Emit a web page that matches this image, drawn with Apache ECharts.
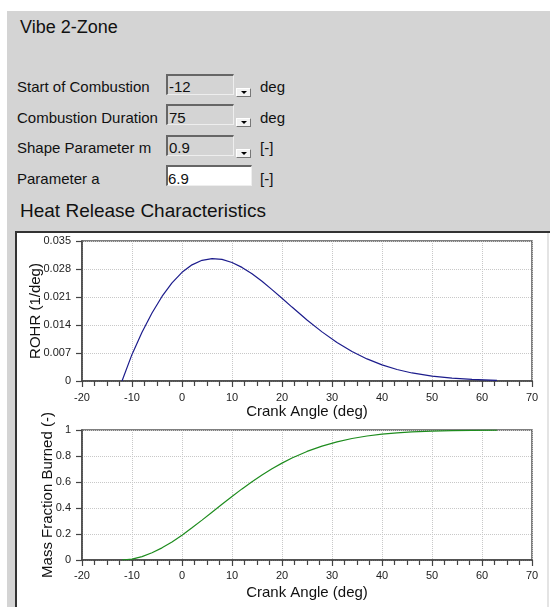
<!DOCTYPE html>
<html>
<head>
<meta charset="utf-8">
<script src="https://cdn.jsdelivr.net/npm/echarts@6/dist/echarts.min.js"></script>
<style>
  html, body { margin:0; padding:0; }
  body { width:550px; height:607px; position:relative; overflow:hidden; background:#fff;
         font-family: Arial, "Liberation Sans", sans-serif; color:#111; }
  .abs { position:absolute; }
  .t { position:absolute; line-height:1; white-space:nowrap; }
  .lbl { font-size:15px; }
  .box { position:absolute; box-sizing:border-box; left:166px; width:68px; height:21px;
         border-top:2px solid #666; border-left:2px solid #666;
         border-bottom:1px solid #eee; border-right:1px solid #eee; background:#d4d4d4; }
  .btn { position:absolute; box-sizing:border-box; left:236px; width:15px; height:9px;
         background:#f2f2f2; border-top:1px solid #fff; border-left:1px solid #fff;
         border-bottom:1px solid #777; border-right:1px solid #777; }
  .btn:after { content:""; position:absolute; left:4px; top:2px; width:0; height:0;
         border-left:3px solid transparent; border-right:3px solid transparent; border-top:3px solid #000; }
</style>
</head>
<body>
<div class="abs" style="left:7px;top:11px;width:543px;height:221px;background:#d4d4d4"></div>
<div class="abs" style="left:7px;top:232px;width:8px;height:375px;background:#d4d4d4"></div>
<div class="abs" style="left:15px;top:231px;width:535px;height:376px;box-sizing:border-box;border-top:2px solid #333;border-left:2px solid #333;background:#fff"></div>
<div class="abs" style="left:547px;top:233px;width:2px;height:374px;background:#e4e4e4"></div>

<div class="t" style="left:20px;top:18px;font-size:18px;">Vibe 2-Zone</div>

<div class="t lbl" style="left:17px;top:79px;">Start of Combustion</div>
<div class="t lbl" style="left:17px;top:110px;">Combustion Duration</div>
<div class="t lbl" style="left:17px;top:140px;">Shape Parameter m</div>
<div class="t lbl" style="left:17px;top:171px;">Parameter a</div>

<div class="box" style="top:74px;"></div>
<div class="box" style="top:104px;"></div>
<div class="box" style="top:135px;"></div>
<div class="box" style="top:165px;width:86px;background:#fff;"></div>
<div class="t lbl" style="left:169px;top:79px;">-12</div>
<div class="t lbl" style="left:169px;top:110px;">75</div>
<div class="t lbl" style="left:169px;top:140px;">0.9</div>
<div class="t lbl" style="left:168px;top:171px;">6.9</div>

<div class="btn" style="top:88px;"></div>
<div class="btn" style="top:118px;"></div>
<div class="btn" style="top:149px;"></div>

<div class="t lbl" style="left:260px;top:79px;">deg</div>
<div class="t lbl" style="left:260px;top:110px;">deg</div>
<div class="t lbl" style="left:260px;top:140px;">[-]</div>
<div class="t lbl" style="left:260px;top:171px;">[-]</div>

<div class="t" style="left:20px;top:201px;font-size:19px;">Heat Release Characteristics</div>

<div id="chart" class="abs" style="left:0;top:0;width:550px;height:607px;z-index:5;"></div>

<script>
// Crank angle samples (deg)
var crankAngle = [-12,-10,-8,-6,-4,-2,0,2,4,6,8,10,12,14,16,18,20,22,25,28,31,34,37,40,43,46,50,54,58,63];
// Rate of heat release (1/deg)
var rohr = [0,0.00665,0.01217,0.01701,0.02114,0.02454,0.02717,0.02904,0.03017,0.03060,0.03039,0.02963,0.02840,0.02680,0.02492,0.02285,0.02069,0.01848,0.01527,0.01228,0.00963,0.00738,0.00552,0.00403,0.00288,0.00201,0.00121,0.00070,0.00039,0.00018];
// Mass fraction burned (-)
var mfb = [0,0.0070,0.0260,0.0553,0.0935,0.1393,0.1912,0.2475,0.3068,0.3677,0.4287,0.4889,0.5470,0.6022,0.6540,0.7018,0.7453,0.7845,0.8351,0.8763,0.9091,0.9345,0.9537,0.9679,0.9782,0.9855,0.9918,0.9955,0.9977,0.9990];
// Axis settings
var xMin = -20, xMax = 70, xStep = 10;
var rohrMax = 0.035, rohrStep = 0.007;
var mfbMax = 1, mfbStep = 0.2;

function pairs(xs, ys) { return xs.map(function (x, i) { return [x, ys[i]]; }); }

var axisCol = '#444';
function xAxisCfg(gridIndex, gap, margin) {
  return {
    type: 'value', gridIndex: gridIndex, min: xMin, max: xMax, interval: xStep,
    name: 'Crank Angle (deg)', nameLocation: 'middle', nameGap: gap,
    nameTextStyle: { fontSize: 15, color: '#111', fontFamily: 'Arial' },
    axisLine: { show: true, onZero: false, lineStyle: { color: axisCol, width: 1.5 } },
    axisTick: { show: true, length: 6, lineStyle: { color: axisCol, width: 1.2 } },
    minorTick: { show: true, splitNumber: 4, length: 5, lineStyle: { color: axisCol, width: 1.2 } },
    splitLine: { show: true, lineStyle: { color: '#c8c8c8', type: 'dotted', width: 1 } },
    axisLabel: { fontSize: 11, color: '#222', margin: margin, fontFamily: 'Arial' }
  };
}
function yAxisCfg(gridIndex, max, step, name, gap, fmt) {
  return {
    type: 'value', gridIndex: gridIndex, min: 0, max: max, interval: step,
    name: name, nameLocation: 'middle', nameGap: gap, nameMoveOverlap: false,
    nameTextStyle: { fontSize: 15, color: '#111', fontFamily: 'Arial' },
    axisLine: { show: true, onZero: false, lineStyle: { color: axisCol, width: 1.5 } },
    axisTick: { show: true, length: 6, lineStyle: { color: axisCol, width: 1.2 } },
    splitLine: { show: true, lineStyle: { color: '#c8c8c8', type: 'dotted', width: 1 } },
    axisLabel: { fontSize: 11, color: '#222', margin: 11, fontFamily: 'Arial', formatter: fmt }
  };
}

var chart = echarts.init(document.getElementById('chart'), null, { renderer: 'canvas' });
chart.setOption({
  animation: false,
  grid: [
    { left: 82, top: 241, width: 450, height: 140, show: true, borderColor: '#555', borderWidth: 1.5, backgroundColor: 'transparent' },
    { left: 82, top: 430, width: 450, height: 130, show: true, borderColor: '#555', borderWidth: 1.5, backgroundColor: 'transparent' }
  ],
  xAxis: [ xAxisCfg(0, 23, 11), xAxisCfg(1, 25, 10) ],
  yAxis: [
    yAxisCfg(0, rohrMax, rohrStep, 'ROHR (1/deg)', 39, function (v) { return v === 0 ? '0' : v.toFixed(3); }),
    yAxisCfg(1, mfbMax, mfbStep, 'Mass Fraction Burned (-)', 27, function (v) { return v === 0 ? '0' : (v === 1 ? '1' : v.toFixed(1)); })
  ],
  series: [
    { type: 'line', xAxisIndex: 0, yAxisIndex: 0, data: pairs(crankAngle, rohr), showSymbol: false,
      smooth: false, lineStyle: { color: '#1c1c8c', width: 1.2 } },
    { type: 'line', xAxisIndex: 1, yAxisIndex: 1, data: pairs(crankAngle, mfb), showSymbol: false,
      smooth: false, lineStyle: { color: '#1e8c1e', width: 1.2 } }
  ]
});
</script>
</body>
</html>
